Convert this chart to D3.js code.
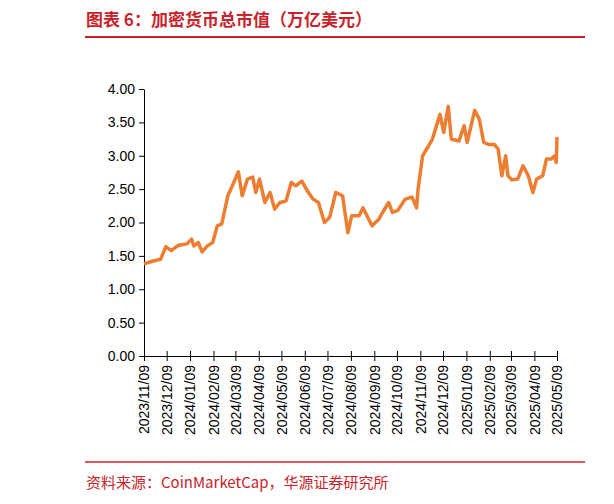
<!DOCTYPE html>
<html>
<head>
<meta charset="utf-8">
<script src="https://cdn.jsdelivr.net/npm/d3@7"></script>
<style>
  body { margin: 0; background: #fff; }
  text { font-family: Arial, "Liberation Sans", sans-serif; }
</style>
</head>
<body>
<svg id="chart" width="614" height="504"></svg>
<script>
// 数据
const dates = ['2023-11-09','2023-11-20','2023-12-01','2023-12-08','2023-12-15','2023-12-25',
  '2024-01-05','2024-01-11','2024-01-14','2024-01-20','2024-01-25','2024-02-01','2024-02-08',
  '2024-02-14','2024-02-20','2024-02-28','2024-03-05','2024-03-13','2024-03-18','2024-03-25',
  '2024-04-01','2024-04-05','2024-04-10','2024-04-17','2024-04-24','2024-04-30','2024-05-07',
  '2024-05-15','2024-05-22','2024-05-28','2024-06-05','2024-06-12','2024-06-20','2024-06-27',
  '2024-07-05','2024-07-12','2024-07-20','2024-07-29','2024-08-05','2024-08-10','2024-08-20',
  '2024-08-25','2024-09-06','2024-09-15','2024-09-20','2024-09-28','2024-10-03','2024-10-10',
  '2024-10-20','2024-10-29','2024-11-04','2024-11-06','2024-11-12','2024-11-20','2024-11-25',
  '2024-12-05','2024-12-10','2024-12-16','2024-12-20','2024-12-30','2025-01-06','2025-01-10',
  '2025-01-20','2025-01-26','2025-02-01','2025-02-07','2025-02-15','2025-02-20','2025-02-25',
  '2025-03-02','2025-03-05','2025-03-10','2025-03-18','2025-03-25','2025-04-01','2025-04-07',
  '2025-04-12','2025-04-20','2025-04-25','2025-05-01','2025-05-06','2025-05-08','2025-05-09'];
const values = [1.38,1.42,1.45,1.64,1.58,1.66,
  1.68,1.75,1.65,1.70,1.56,1.65,1.70,
  1.95,1.98,2.40,2.55,2.76,2.40,2.65,
  2.68,2.45,2.65,2.30,2.45,2.20,2.30,
  2.32,2.60,2.55,2.62,2.48,2.35,2.30,
  2.00,2.08,2.45,2.40,1.85,2.10,2.10,
  2.22,1.95,2.05,2.15,2.30,2.15,2.18,
  2.35,2.38,2.22,2.50,3.00,3.15,3.25,
  3.62,3.35,3.74,3.25,3.22,3.45,3.20,
  3.68,3.55,3.20,3.17,3.17,3.10,2.70,
  3.00,2.70,2.64,2.65,2.85,2.70,2.45,
  2.65,2.70,2.95,2.95,3.00,2.90,3.28];
const tickDates = ['2023-11-09','2023-12-09','2024-01-09','2024-02-09','2024-03-09','2024-04-09',
  '2024-05-09','2024-06-09','2024-07-09','2024-08-09','2024-09-09','2024-10-09','2024-11-09',
  '2024-12-09','2025-01-09','2025-02-09','2025-03-09','2025-04-09','2025-05-09'];
const yTicks = [0, 0.5, 1, 1.5, 2, 2.5, 3, 3.5, 4];

const parse = d3.timeParse('%Y-%m-%d');
const data = dates.map((d, i) => ({ date: parse(d), value: values[i] }));

const svg = d3.select('#chart');
const red = '#c8232b';

// 标题
svg.append('text').attr('x', 86).attr('y', 26)
  .attr('fill', red).attr('font-size', 17).attr('font-weight', 'bold')
  .style('font-family', '"Noto Sans CJK SC", sans-serif')
  .text('图表 6：加密货币总市值（万亿美元）');
svg.append('line').attr('x1', 85).attr('x2', 585).attr('y1', 37).attr('y2', 37)
  .attr('stroke', red).attr('stroke-width', 2);

const x = d3.scaleTime()
  .domain([parse('2023-11-09'), parse('2025-05-09')])
  .range([144, 557]);
const y = d3.scaleLinear().domain([0, 4]).range([356, 89]);

// y轴
svg.append('g').attr('transform', 'translate(144,0)')
  .call(d3.axisLeft(y).tickValues(yTicks).tickFormat(d3.format('.2f')).tickSize(5).tickSizeOuter(0))
  .call(g => g.selectAll('text').attr('font-size', 14).attr('fill', '#000').attr('dx', -1))
  .call(g => g.selectAll('line,path').attr('stroke', '#000'));

// x轴
const xa = svg.append('g').attr('transform', 'translate(0,356)')
  .call(d3.axisBottom(x).tickValues(tickDates.map(parse)).tickFormat(d3.timeFormat('%Y/%m/%d')).tickSize(5).tickSizeOuter(0));
xa.selectAll('.tick line').attr('y1', -5);
xa.selectAll('line,path').attr('stroke', '#000');
xa.selectAll('text').attr('font-size', 14).attr('fill', '#000')
  .attr('transform', 'rotate(-90)').attr('text-anchor', 'end')
  .attr('x', -9).attr('y', 0).attr('dy', '0.35em');

// 折线
svg.append('path').datum(data)
  .attr('fill', 'none').attr('stroke', '#ed7d31').attr('stroke-width', 3.5)
  .attr('stroke-linejoin', 'round')
  .attr('d', d3.line().x(d => x(d.date)).y(d => y(d.value)));

// 来源
svg.append('line').attr('x1', 85).attr('x2', 585).attr('y1', 462).attr('y2', 462)
  .attr('stroke', red).attr('stroke-width', 1.5);
svg.append('text').attr('x', 86).attr('y', 488)
  .attr('fill', red).attr('font-size', 15)
  .style('font-family', '"Noto Sans CJK SC", sans-serif')
  .text('资料来源：CoinMarketCap，华源证券研究所');
</script>
</body>
</html>
